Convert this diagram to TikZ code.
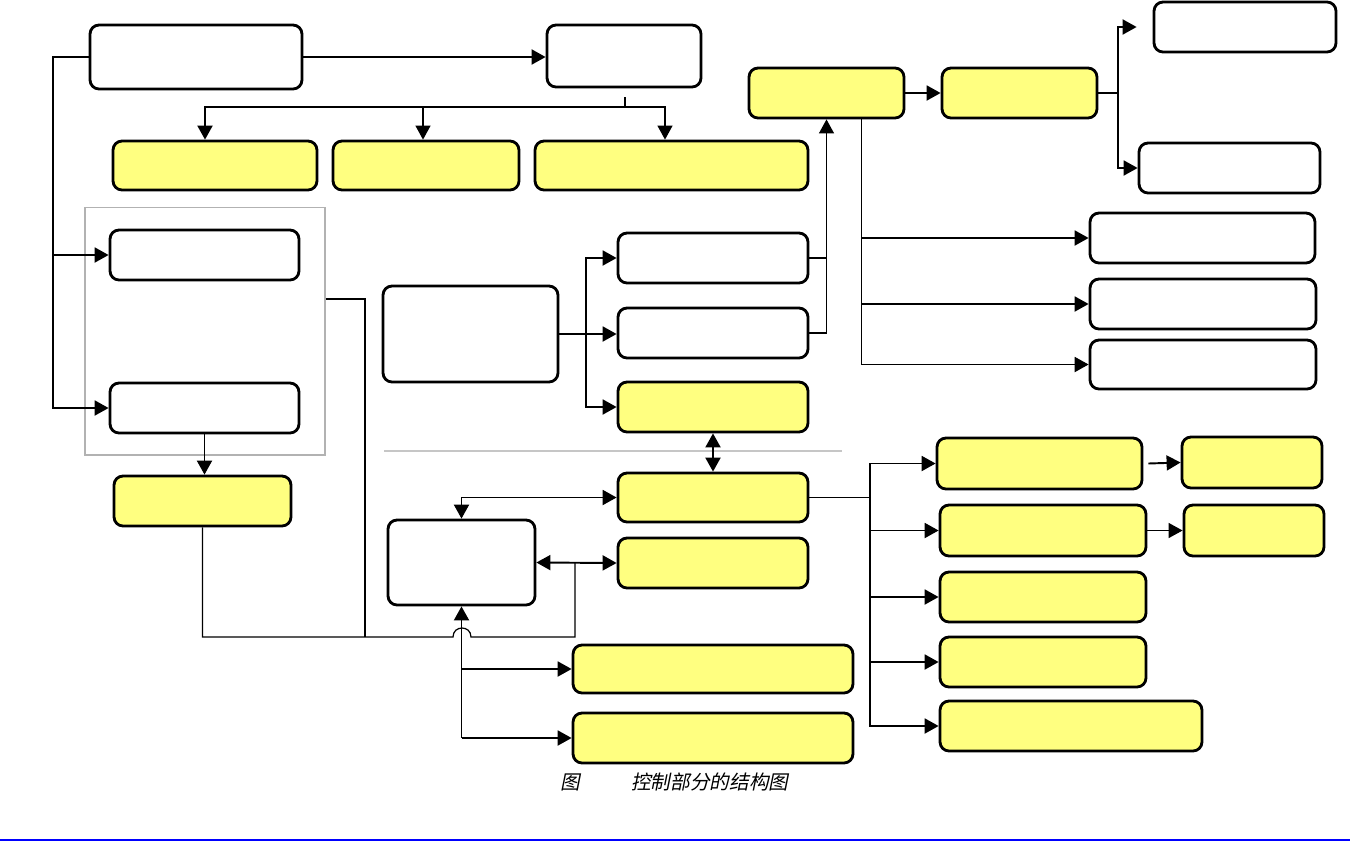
\documentclass[tikz,border=0pt]{standalone}
\usepackage{fontspec}
\newfontfamily\cjk[FakeSlant=0.2]{Noto Sans CJK SC}
\usetikzlibrary{arrows.meta,calc}
\definecolor{boxyellow}{HTML}{FFFF80}

\begin{document}
\begin{tikzpicture}[x=0.02cm, y=-0.02cm,
  >={Triangle[length=0.28cm, width=0.3cm]},
  wbox/.style={draw, line width=1.6pt, rounded corners=0.18cm, fill=white, minimum height=1cm},
  ybox/.style={wbox, fill=boxyellow},
  conn/.style={line width=1.1pt},
  thinl/.style={line width=0.7pt}]
\useasboundingbox (0,0) rectangle (1350,843);
% Gruppe
\node[draw=gray!60, line width=0.6pt, minimum width=4.8cm, minimum height=4.96cm] (grp) at (205,331) {};
\draw[gray!45, line width=0.6pt] (384,451) -- (842,451);
% Boxes, upper part
\node[wbox, minimum width=4.24cm, minimum height=1.28cm] (A) at (196,57) {};
\node[wbox, minimum width=3.08cm, minimum height=1.24cm] (B) at (624,56) {};
\node[ybox, minimum width=4.08cm, minimum height=0.98cm] (Y1) at (215,165.5) {};
\node[ybox, minimum width=3.72cm, minimum height=0.98cm] (Y2) at (426,165.5) {};
\node[ybox, minimum width=5.46cm, minimum height=0.98cm] (Y3) at (671.5,165.5) {};
\node[wbox, minimum width=3.78cm] (C1) at (204.5,255) {};
\node[wbox, minimum width=3.78cm] (C2) at (204.5,408) {};
\node[ybox, minimum width=3.54cm] (Y4) at (202.5,501) {};
\node[wbox, minimum width=3.5cm, minimum height=1.92cm] (D) at (470.5,334) {};
\node[wbox, minimum width=3.8cm] (E1) at (713,258) {};
\node[wbox, minimum width=3.8cm] (E2) at (713,333) {};
\node[ybox, minimum width=3.8cm] (E3) at (713,407) {};
\node[ybox, minimum width=3.1cm] (F) at (826.5,93) {};
\node[ybox, minimum width=3.1cm] (G) at (1019.5,93) {};
\node[wbox, minimum width=3.64cm] (H1) at (1245,27) {};
\node[wbox, minimum width=3.62cm] (H2) at (1229.5,168) {};
\node[wbox, minimum width=4.5cm] (I1) at (1202.5,238) {};
\node[wbox, minimum width=4.52cm] (I2) at (1203,304) {};
\node[wbox, minimum width=4.52cm, minimum height=0.98cm] (I3) at (1203,364.5) {};
% Boxes, lower part
\node[ybox, minimum width=3.8cm, minimum height=0.98cm] (J) at (713,497.5) {};
\node[wbox, minimum width=2.94cm, minimum height=1.7cm] (K) at (461.5,562.5) {};
\node[ybox, minimum width=3.8cm] (L) at (713,563) {};
\node[ybox, minimum width=5.6cm, minimum height=0.96cm] (M1) at (713,669) {};
\node[ybox, minimum width=5.6cm] (M2) at (713,738) {};
\node[ybox, minimum width=4.1cm, minimum height=1.02cm] (N1) at (1039.5,463.5) {};
\node[ybox, minimum width=2.8cm, minimum height=1.02cm] (P1) at (1252,462.5) {};
\node[ybox, minimum width=4.12cm, minimum height=1.02cm] (N2) at (1043,530.5) {};
\node[ybox, minimum width=2.8cm, minimum height=1.02cm] (P2) at (1254,530.5) {};
\node[ybox, minimum width=4.12cm] (N3) at (1043,597) {};
\node[ybox, minimum width=4.12cm] (N4) at (1043,662) {};
\node[ybox, minimum width=5.24cm] (N5) at (1071,726) {};
% Verbindungen oben
\draw[conn,->] (A.west) -- ++(-36,0) |- (C1.west);
\draw[conn,->] (A.west) -- ++(-36,0) |- (C2.west);
\draw[conn,->] (A.east) -- (A.east -| B.west);
\coordinate (bsplit) at (625,107);
\draw[thinl] (B.south) ++(1,9) -- (bsplit);
\draw[conn,->] (bsplit) -| ([xshift=-0.2cm]Y1.north);
\draw[thinl,->] (bsplit) -| ([xshift=-0.06cm]Y2.north);
\draw[thinl,->] (bsplit) -| ([xshift=-0.13cm]Y3.north);
\draw[conn,->] (C2.south) -- (C2.south |- Y4.north);
\draw[conn] (D.east) -- ++(27,0) coordinate (dsplit);
\draw[conn,->] (dsplit) -- (dsplit -| E2.west);
\draw[conn,->] (dsplit) |- (E1.west);
\draw[conn,->] (dsplit) |- (E3.west);
\draw[thinl] (E1.east) -- (E1.east -| F.south);
\draw[thinl,->] (E2.east) -| (F.south);
\draw[conn,->] (F.east) -- (G.west);
\draw[thinl] (G.east) -- ++(20,0) coordinate (gsplit);
\draw[conn,->] (gsplit) |- ([xshift=-0.32cm]H1.west);
\draw[conn,->] (gsplit) |- (H2.west);
\coordinate (fdrop) at ([xshift=0.7cm]F.south);
\draw[conn,->] (fdrop) |- (I1.west);
\draw[conn,->] (fdrop |- I2.west) -- (I2.west);
\draw[conn,->] (fdrop) |- (I3.west);
% Verbindungen unten
\coordinate (kl) at ($(K.east)!0.48!(L.west)$);
\draw[thinl] ([yshift=0.64cm]grp.east) -| (365,637);
\draw[thinl] (Y4.south) |- (453,637) .. controls (453,625) and (471,625) .. (471,637) -| (kl);
\draw[conn,<->] (E3.south) -- (J.north);
\draw[conn,<->] (J.west) -| (K.north);
\draw[conn,<->] (K.east) -- (L.west);
\draw[conn,->] (K.south |- M2.west) -- (K.south);
\draw[conn,->] (K.south |- M1.west) -- (M1.west);
\draw[conn,->] (K.south |- M2.west) -- (M2.west);
\draw[conn] (J.east) -- ++(61,0) coordinate (jsplit);
\draw[conn,->] (jsplit) |- (N1.west);
\draw[conn,->] (jsplit) |- (N2.west);
\draw[conn,->] (jsplit) |- (N3.west);
\draw[conn,->] (jsplit) |- (N4.west);
\draw[conn,->] (jsplit) |- (N5.west);
\draw[conn,->] ([xshift=0.1cm]N1.east) -- (P1.west);
\draw[thinl,->] (N2.east) -- (P2.west);
% Bildunterschrift
\node[anchor=west, inner sep=0pt, font=\cjk\fontsize{11.2}{13}\selectfont] (cap) at (560,782) {图\hspace{1.02cm}控制部分的结构图};
\draw[blue, line width=1.2pt] (0,840) -- (1350,840);
\end{tikzpicture}
\end{document}
